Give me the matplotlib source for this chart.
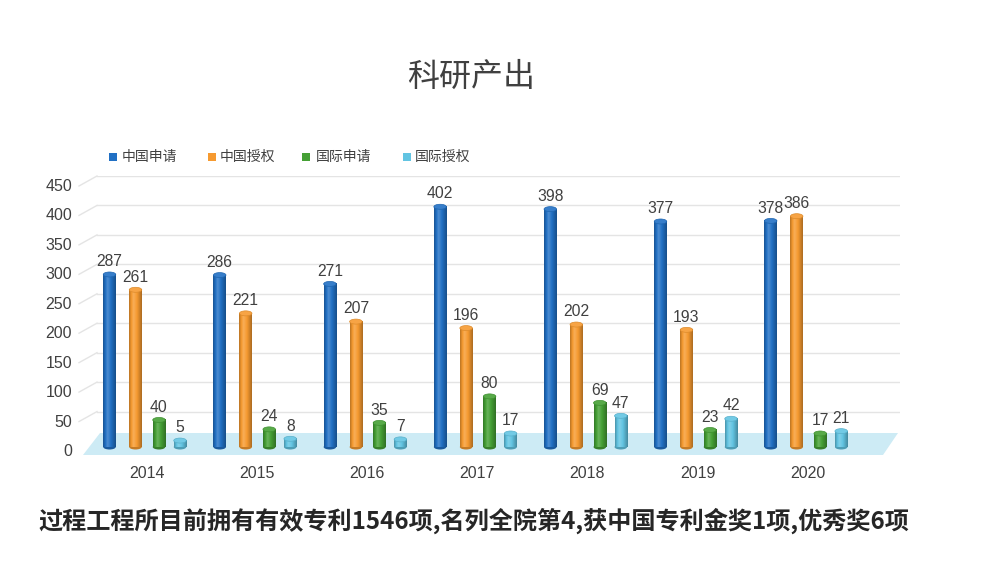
import numpy as np
import matplotlib
matplotlib.use("Agg")
import matplotlib.pyplot as plt
from matplotlib.patches import Polygon, Ellipse, Rectangle
from matplotlib.colors import to_rgb
from matplotlib.transforms import ScaledTranslation

plt.rcParams['font.family'] = ['Noto Sans CJK SC', 'DejaVu Sans']

years = ['2014', '2015', '2016', '2017', '2018', '2019', '2020']
series_names = ['中国申请', '中国授权', '国际申请', '国际授权']
cn_apply = [287, 286, 271, 402, 398, 377, 378]
cn_grant = [261, 221, 207, 196, 202, 193, 386]
intl_apply = [40, 24, 35, 80, 69, 23, 17]
intl_grant = [5, 8, 7, 17, 47, 42, 21]
series_values = [cn_apply, cn_grant, intl_apply, intl_grant]
series_colors = ['#2170c4', '#f69a30', '#45a035', '#62c4e2']
y_ticks = [0, 50, 100, 150, 200, 250, 300, 350, 400, 450]

title = '科研产出'
footer = '过程工程所目前拥有有效专利1546项,名列全院第4,获中国专利金奖1项,优秀奖6项'

W, H = 983, 562
fig = plt.figure(figsize=(W / 100, H / 100), dpi=100)

# axes placement in pixels
ax_l, ax_r, ax_t, ax_b = 83, 900, 176, 456
ax = fig.add_axes([ax_l / W, 1 - ax_b / H, (ax_r - ax_l) / W, (ax_b - ax_t) / H])

x0_px, dx_px = 146.5, 110.2
xlim = ((ax_l - x0_px) / dx_px, (ax_r - x0_px) / dx_px)
ppu = 0.589  # pixels per unit
zero_px = 441.0
ylim = (-(ax_b - zero_px) / ppu, (zero_px - ax_t) / ppu)


def px2x(p):
    return (p - x0_px) / dx_px


def px2y(p):
    return (zero_px - p) / ppu


for s in ax.spines.values():
    s.set_visible(False)
ax.set_facecolor('none')

# gridlines (back wall) with perspective side strokes
for v in y_ticks[1:]:
    ax.plot([px2x(97), px2x(900)], [v, v], color='#e4e4e4', lw=1.0, zorder=1)
    ax.plot([px2x(79), px2x(97)], [v - 10 / ppu, v], color='#e4e4e4', lw=1.0,
            zorder=1, clip_on=False)

# floor
floor = Polygon([[px2x(83), px2y(455)], [px2x(100), px2y(433)],
                 [px2x(898), px2y(433)], [px2x(883), px2y(455)]],
                closed=True, facecolor='#cdebf5', edgecolor='none', zorder=2)
ax.add_patch(floor)


def shade(c, f):
    c = np.array(to_rgb(c))
    if f >= 0:
        return c + (1 - c) * f
    return c * (1 + f)


bw = 12.5 / dx_px
offsets = [-37, -11, 12.5, 33.5]
base = px2y(447)
cap_h = 5 / ppu
n = 64
t = np.linspace(0, 1, n)
prof = np.where(t < 0.35, -0.25 + (t / 0.35) * 0.45, 0.2 - ((t - 0.35) / 0.65) * 0.5)

for si, (vals, col) in enumerate(zip(series_values, series_colors)):
    grad = np.array([shade(col, f) for f in prof])[None, :, :]
    for i, v in enumerate(vals):
        xc = i + offsets[si] / dx_px
        top = v - cap_h / 2
        ax.imshow(grad, extent=(xc - bw / 2, xc + bw / 2, base, top), aspect='auto',
                  interpolation='bilinear', zorder=3)
        ax.add_patch(Ellipse((xc, base), bw, cap_h, facecolor=shade(col, -0.2),
                             edgecolor='none', zorder=2.9))
        ax.add_patch(Ellipse((xc, top), bw, cap_h, facecolor=shade(col, 0.1),
                             edgecolor=shade(col, -0.1), lw=0.5, zorder=3.1))
        ax.annotate(str(v), (xc, v), xytext=(0, 2), textcoords='offset points',
                    ha='center', va='bottom', fontsize=11.3, color='#404040',
                    family=['Liberation Sans', 'DejaVu Sans'], zorder=5)

ax.set_xlim(*xlim)
ax.set_ylim(*ylim)

ax.set_xticks(range(len(years)))
ax.set_xticklabels(years, fontsize=11.5, color='#404040',
                   family=['Liberation Sans', 'DejaVu Sans'])
ax.set_yticks(y_ticks)
ax.set_yticklabels([str(v) for v in y_ticks], fontsize=11.5, color='#404040',
                   family=['Liberation Sans', 'DejaVu Sans'])
ax.tick_params(axis='both', length=0)
ax.tick_params(axis='y', pad=8)
ax.tick_params(axis='x', pad=7)
off = ScaledTranslation(0, -9 / 100, fig.dpi_scale_trans)
for lab in ax.get_yticklabels():
    lab.set_transform(lab.get_transform() + off)

# title
fig.text(471 / W, 1 - 77 / H, title, ha='center', va='center', fontsize=23,
         color='#404040')

# legend
leg_sq = [109, 208, 302, 403]
leg_tx = [122, 220, 316, 415]
for sx, tx, name, col in zip(leg_sq, leg_tx, series_names, series_colors):
    fig.patches.append(Rectangle((sx / W, 1 - 161 / H), 8 / W, 8 / H,
                                 transform=fig.transFigure, facecolor=col,
                                 edgecolor='none'))
    fig.text(tx / W, 1 - 157 / H, name, ha='left', va='center', fontsize=10,
             color='#404040')

# footer
fig.text(38 / W, 1 - 521 / H, footer, ha='left', va='center', fontsize=17.4,
         fontweight='bold', color='#262626')

fig.savefig('out.png', dpi=100)
